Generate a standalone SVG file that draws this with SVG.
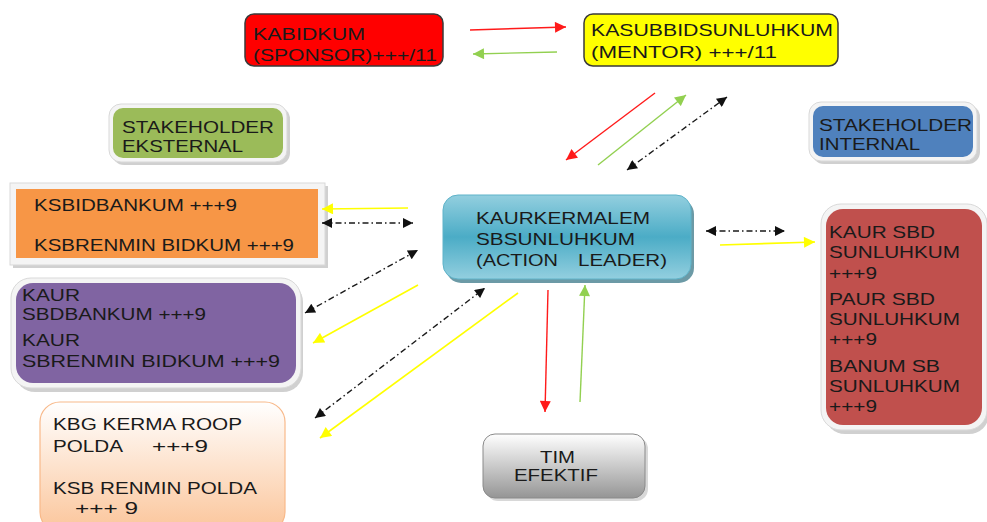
<svg xmlns="http://www.w3.org/2000/svg" width="987" height="522" viewBox="0 0 987 522">
<defs>
<style>
text{font-family:"Liberation Sans",Arial,sans-serif;font-size:17px;fill:#1a1a1a}
.frame{fill:#f4f4f4;stroke:#d9d9d9;stroke-width:1}
.shadow{fill:#b0b0b0;opacity:0.6}
.c{fill:none;stroke-width:1.4}
.red{stroke:#ff1a1a}
.grn{stroke:#92d050}
.yel{stroke:#ffff00;stroke-width:1.6}
.blk{stroke:#1a1a1a;stroke-dasharray:6 3 1.5 3}
</style>
<marker id="hr" viewBox="0 0 10 10" refX="10" refY="5" markerWidth="12" markerHeight="11" markerUnits="userSpaceOnUse" orient="auto-start-reverse"><path d="M0,0L10,5L0,10z" fill="#ff1a1a"/></marker>
<marker id="hg" viewBox="0 0 10 10" refX="10" refY="5" markerWidth="12" markerHeight="11" markerUnits="userSpaceOnUse" orient="auto-start-reverse"><path d="M0,0L10,5L0,10z" fill="#92d050"/></marker>
<marker id="hy" viewBox="0 0 10 10" refX="10" refY="5" markerWidth="12" markerHeight="11" markerUnits="userSpaceOnUse" orient="auto-start-reverse"><path d="M0,0L10,5L0,10z" fill="#ffff00"/></marker>
<marker id="hk" viewBox="0 0 10 10" refX="10" refY="5" markerWidth="12" markerHeight="10" markerUnits="userSpaceOnUse" orient="auto-start-reverse"><path d="M0,0L10,5L0,10z" fill="#111"/></marker>
<linearGradient id="gTeal" x1="0" y1="0" x2="0" y2="1"><stop offset="0" stop-color="#93cfdf"/><stop offset="0.5" stop-color="#4bacc6"/><stop offset="1" stop-color="#93cfdf"/></linearGradient>
<linearGradient id="gPeach" x1="0" y1="0" x2="0" y2="1"><stop offset="0" stop-color="#ffffff"/><stop offset="1" stop-color="#fbc59a"/></linearGradient>
<linearGradient id="gGray" x1="0" y1="0" x2="0" y2="1"><stop offset="0" stop-color="#ffffff"/><stop offset="1" stop-color="#959595"/></linearGradient>
</defs>
<rect width="987" height="522" fill="#ffffff"/>

<g id="kabidkum">
<rect x="245" y="14" width="198" height="52" rx="9" fill="#ff0000" stroke="#3a3a3a" stroke-width="1.5"/>
<text x="253" y="40" textLength="112" lengthAdjust="spacingAndGlyphs">KABIDKUM</text>
<text x="253" y="61" textLength="184" lengthAdjust="spacingAndGlyphs">(SPONSOR)+++/11</text>
</g>

<g id="kasubbid">
<rect x="584" y="14" width="254" height="52" rx="9" fill="#ffff00" stroke="#3a3a3a" stroke-width="1.5"/>
<text x="591" y="36" textLength="242" lengthAdjust="spacingAndGlyphs">KASUBBIDSUNLUHKUM</text>
<text x="591" y="58" textLength="186" lengthAdjust="spacingAndGlyphs">(MENTOR) +++/11</text>
</g>

<g id="stake-ext">
<rect x="112" y="107" width="178" height="58" rx="12" class="shadow"/>
<rect x="109" y="104" width="178" height="58" rx="12" class="frame"/>
<rect x="113" y="108" width="170" height="50" rx="10" fill="#9bbb59"/>
<text x="122" y="133" textLength="152" lengthAdjust="spacingAndGlyphs">STAKEHOLDER</text>
<text x="122" y="152" textLength="121" lengthAdjust="spacingAndGlyphs">EKSTERNAL</text>
</g>

<g id="stake-int">
<rect x="812" y="105" width="168" height="59" rx="12" class="shadow"/>
<rect x="809" y="102" width="168" height="59" rx="12" class="frame"/>
<rect x="813" y="106" width="160" height="51" rx="10" fill="#4f81bd"/>
<text x="819" y="131" textLength="153" lengthAdjust="spacingAndGlyphs">STAKEHOLDER</text>
<text x="819" y="150" textLength="101" lengthAdjust="spacingAndGlyphs">INTERNAL</text>
</g>

<g id="ksbid">
<rect x="13" y="186" width="315" height="82" class="shadow"/>
<rect x="10" y="183" width="315" height="82" class="frame"/>
<rect x="16" y="189" width="302" height="69" fill="#f79646"/>
<text x="34" y="211" textLength="203" lengthAdjust="spacingAndGlyphs">KSBIDBANKUM +++9</text>
<text x="34" y="251" textLength="260" lengthAdjust="spacingAndGlyphs">KSBRENMIN BIDKUM +++9</text>
</g>

<g id="kaurkermalem">
<rect x="446" y="199" width="248" height="84" rx="15" fill="#2d6f80" opacity="0.7"/>
<rect x="443" y="195" width="248" height="84" rx="15" fill="url(#gTeal)" stroke="#5fb3c9" stroke-width="1"/>
<text x="476" y="224" textLength="174" lengthAdjust="spacingAndGlyphs">KAURKERMALEM</text>
<text x="476" y="245" textLength="159" lengthAdjust="spacingAndGlyphs">SBSUNLUHKUM</text>
<text x="476" y="266" textLength="82" lengthAdjust="spacingAndGlyphs">(ACTION</text>
<text x="578" y="266" textLength="89" lengthAdjust="spacingAndGlyphs">LEADER)</text>
</g>

<g id="kaur-sbd">
<rect x="825" y="208" width="164" height="226" rx="20" class="shadow"/>
<rect x="821" y="204" width="166" height="226" rx="20" class="frame"/>
<rect x="826" y="209" width="156" height="216" rx="17" fill="#c0504d"/>
<text x="829" y="238" textLength="106" lengthAdjust="spacingAndGlyphs">KAUR SBD</text>
<text x="829" y="258" textLength="131" lengthAdjust="spacingAndGlyphs">SUNLUHKUM</text>
<text x="829" y="279" textLength="48" lengthAdjust="spacingAndGlyphs">+++9</text>
<text x="829" y="305" textLength="106" lengthAdjust="spacingAndGlyphs">PAUR SBD</text>
<text x="829" y="325" textLength="131" lengthAdjust="spacingAndGlyphs">SUNLUHKUM</text>
<text x="829" y="345" textLength="48" lengthAdjust="spacingAndGlyphs">+++9</text>
<text x="829" y="372" textLength="111" lengthAdjust="spacingAndGlyphs">BANUM SB</text>
<text x="829" y="392" textLength="131" lengthAdjust="spacingAndGlyphs">SUNLUHKUM</text>
<text x="829" y="412" textLength="48" lengthAdjust="spacingAndGlyphs">+++9</text>
</g>

<g id="kaur-sbdbankum">
<rect x="15" y="282" width="288" height="110" rx="20" class="shadow"/>
<rect x="11" y="278" width="290" height="110" rx="20" class="frame"/>
<rect x="16" y="283" width="280" height="100" rx="17" fill="#8064a2"/>
<text x="22" y="301" textLength="58" lengthAdjust="spacingAndGlyphs">KAUR</text>
<text x="22" y="320" textLength="184" lengthAdjust="spacingAndGlyphs">SBDBANKUM +++9</text>
<text x="22" y="346" textLength="58" lengthAdjust="spacingAndGlyphs">KAUR</text>
<text x="22" y="367" textLength="258" lengthAdjust="spacingAndGlyphs">SBRENMIN BIDKUM +++9</text>
</g>

<g id="kbg-kerma">
<rect x="40" y="402" width="245" height="130" rx="20" fill="url(#gPeach)" stroke="#f8b98a" stroke-width="1.2"/>
<text x="53" y="430" textLength="189" lengthAdjust="spacingAndGlyphs">KBG KERMA ROOP</text>
<text x="53" y="452" textLength="70" lengthAdjust="spacingAndGlyphs">POLDA</text>
<text x="152" y="452" textLength="56" lengthAdjust="spacingAndGlyphs">+++9</text>
<text x="53" y="494" textLength="204" lengthAdjust="spacingAndGlyphs">KSB RENMIN POLDA</text>
<text x="75" y="514" textLength="63" lengthAdjust="spacingAndGlyphs">+++ 9</text>
</g>

<g id="tim-efektif">
<rect x="486" y="437" width="162" height="64" rx="12" fill="#c8c8c8" opacity="0.7"/>
<rect x="483" y="434" width="162" height="64" rx="12" fill="url(#gGray)" stroke="#8a8a8a" stroke-width="1"/>
<text x="540" y="463" textLength="35" lengthAdjust="spacingAndGlyphs">TIM</text>
<text x="514" y="481" textLength="84" lengthAdjust="spacingAndGlyphs">EFEKTIF</text>
</g>

<g id="connectors">
<line x1="470" y1="30" x2="566" y2="27" class="c red" marker-end="url(#hr)"/>
<line x1="557" y1="52" x2="473" y2="54" class="c grn" marker-end="url(#hg)"/>
<line x1="655" y1="93" x2="566" y2="160" class="c red" marker-end="url(#hr)"/>
<line x1="598" y1="165" x2="686" y2="95" class="c grn" marker-end="url(#hg)"/>
<line x1="627" y1="170" x2="727" y2="97" class="c blk" marker-start="url(#hk)" marker-end="url(#hk)"/>
<line x1="408" y1="208" x2="322" y2="209" class="c yel" marker-end="url(#hy)"/>
<line x1="322" y1="223" x2="413" y2="223" class="c blk" marker-start="url(#hk)" marker-end="url(#hk)"/>
<line x1="305" y1="313" x2="418" y2="250" class="c blk" marker-start="url(#hk)" marker-end="url(#hk)"/>
<line x1="418" y1="285" x2="313" y2="343" class="c yel" marker-end="url(#hy)"/>
<line x1="315" y1="418" x2="485" y2="288" class="c blk" marker-start="url(#hk)" marker-end="url(#hk)"/>
<line x1="518" y1="293" x2="320" y2="438" class="c yel" marker-end="url(#hy)"/>
<line x1="548" y1="290" x2="545" y2="412" class="c red" marker-end="url(#hr)"/>
<line x1="580" y1="402" x2="585" y2="285" class="c grn" marker-end="url(#hg)"/>
<line x1="706" y1="231" x2="785" y2="231" class="c blk" marker-start="url(#hk)" marker-end="url(#hk)"/>
<line x1="720" y1="245" x2="815" y2="242" class="c yel" marker-end="url(#hy)"/>
</g>
</svg>
